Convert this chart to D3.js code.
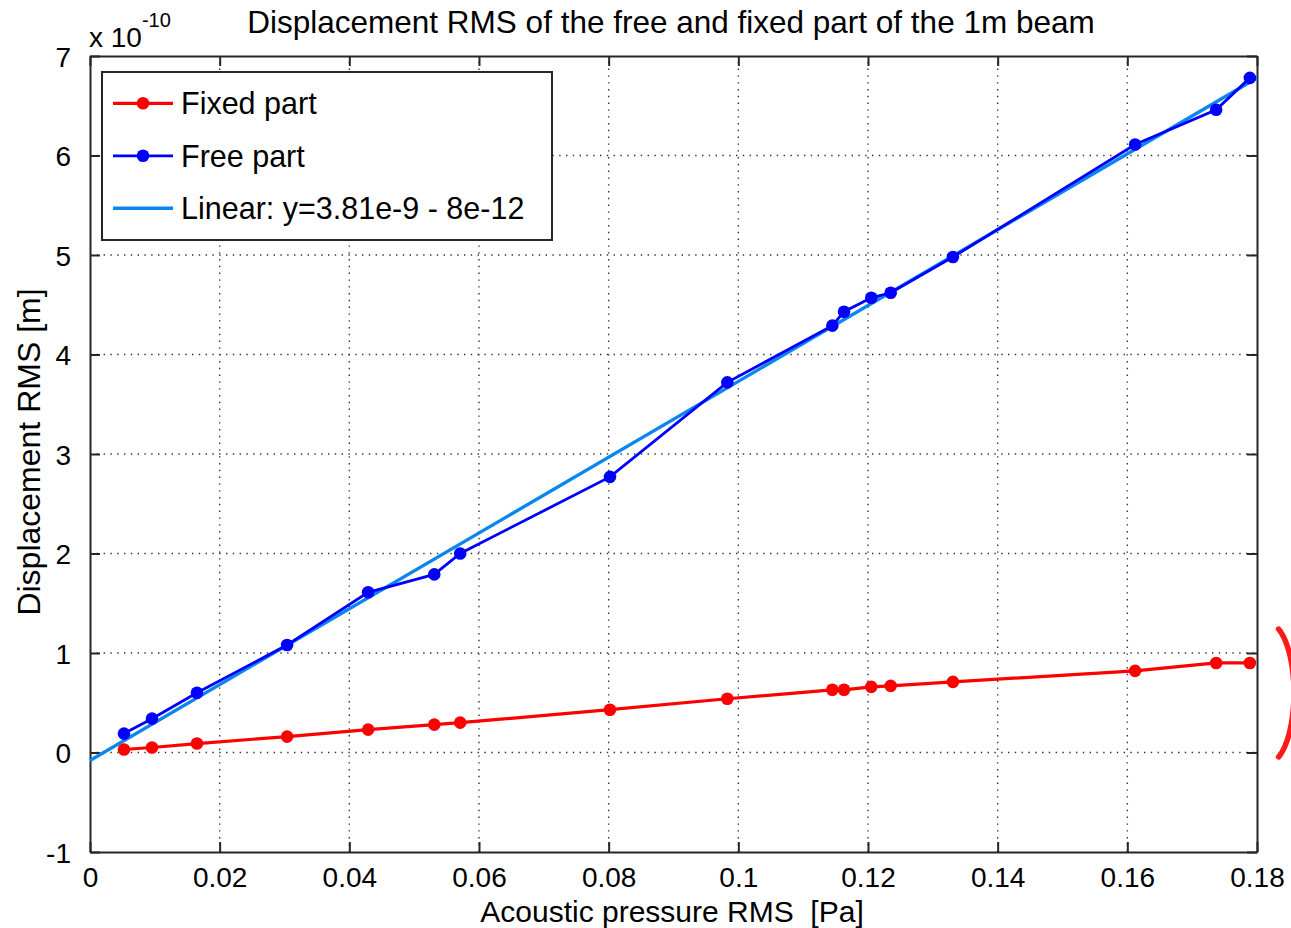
<!DOCTYPE html>
<html>
<head>
<meta charset="utf-8">
<script src="https://cdn.jsdelivr.net/npm/d3@7"></script>
<style>
  html, body { margin: 0; padding: 0; background: #fff; }
  svg { display: block; font-family: "Liberation Sans", Arial, Helvetica, sans-serif; }
</style>
</head>
<body>
<svg id="chart" width="1291" height="928"></svg>
<script>
// Acoustic pressure RMS [Pa] for each measurement
const pressure = [0.00524, 0.00956, 0.0165, 0.0304, 0.0429, 0.0531, 0.0571, 0.0802,
                  0.0983, 0.1145, 0.1163, 0.1205, 0.1235, 0.1331, 0.1612, 0.1737, 0.1789];
// Displacement RMS in units of 1e-10 m
const fixedPart = [0.03, 0.05, 0.09, 0.16, 0.23, 0.28, 0.30, 0.43,
                   0.54, 0.63, 0.63, 0.66, 0.67, 0.71, 0.82, 0.90, 0.90];
const freePart = [0.19, 0.34, 0.60, 1.08, 1.61, 1.79, 2.00, 2.77,
                  3.72, 4.29, 4.43, 4.57, 4.62, 4.98, 6.11, 6.46, 6.78];
// Linear fit of the free part: y = slope * x + intercept (metres)
const fitSlope = 3.81e-9;
const fitIntercept = -8e-12;
const fitRange = [0, 0.18];

const xTicks = [0, 0.02, 0.04, 0.06, 0.08, 0.1, 0.12, 0.14, 0.16, 0.18];
const yTicks = [-1, 0, 1, 2, 3, 4, 5, 6, 7];
const legendLabels = ["Fixed part", "Free part", "Linear: y=3.81e-9 - 8e-12"];

const colors = { fixed: "#ff0000", free: "#0000ff", fit: "#0a86f0" };
const SCALE = 1e-10;

const svg = d3.select("#chart");
const margin = { left: 90, right: 34, top: 56, bottom: 76 };
const W = 1291, H = 928;
const x = d3.scaleLinear().domain([0, 0.18]).range([margin.left, W - margin.right]);
const y = d3.scaleLinear().domain([-1, 7]).range([H - margin.bottom, margin.top]);
const x0 = x.range()[0], x1 = x.range()[1], y0 = y.range()[0], y1 = y.range()[1];

svg.append("rect").attr("x", 0).attr("y", 0).attr("width", W).attr("height", H).attr("fill", "#fff");

// dotted grid
const grid = svg.append("g").attr("stroke", "#333").attr("stroke-width", 1.4)
  .attr("stroke-dasharray", "1.4,5.4");
grid.selectAll("line.gx").data(xTicks.slice(1, -1)).join("line")
  .attr("x1", d => x(d)).attr("x2", d => x(d)).attr("y1", y0).attr("y2", y1);
grid.selectAll("line.gy").data(yTicks.slice(1, -1)).join("line")
  .attr("y1", d => y(d)).attr("y2", d => y(d)).attr("x1", x0).attr("x2", x1);

// axes with inward ticks on all four sides
const tickLen = 10;
const axisColor = "#262626";
const fmtX = d => d === 0 ? "0" : String(+d.toFixed(2));
const fmtY = d => d < 0 ? "-" + Math.abs(d) : String(d);
const xb = svg.append("g").attr("transform", `translate(0,${y0})`)
  .call(d3.axisBottom(x).tickValues(xTicks).tickFormat(fmtX).tickSizeInner(-tickLen).tickSizeOuter(0).tickPadding(18));
const xt = svg.append("g").attr("transform", `translate(0,${y1})`)
  .call(d3.axisTop(x).tickValues(xTicks).tickFormat("").tickSizeInner(-tickLen).tickSizeOuter(0));
const yl = svg.append("g").attr("transform", `translate(${x0},0)`)
  .call(d3.axisLeft(y).tickValues(yTicks).tickFormat(fmtY).tickSizeInner(-tickLen).tickSizeOuter(0).tickPadding(19));
const yr = svg.append("g").attr("transform", `translate(${x1},0)`)
  .call(d3.axisRight(y).tickValues(yTicks).tickFormat("").tickSizeInner(-tickLen).tickSizeOuter(0));
[xb, xt, yl, yr].forEach(g => {
  g.select(".domain").attr("stroke", axisColor).attr("stroke-width", 2);
  g.selectAll(".tick line").attr("stroke", axisColor).attr("stroke-width", 2);
  g.selectAll(".tick text").attr("fill", "#000").style("font-size", "28px")
    .style("font-family", '"Liberation Sans", Arial, sans-serif');
});
xb.selectAll(".tick text").attr("dy", "0.6em");
yl.selectAll(".tick text").attr("dy", "0.36em");

// fitted line
const fitLine = d3.line().x(d => x(d)).y(d => y((fitSlope * d + fitIntercept) / SCALE));
svg.append("path").datum(fitRange).attr("d", fitLine)
  .attr("fill", "none").attr("stroke", colors.fit).attr("stroke-width", 3.4);

// measured series
const seriesLine = d3.line().x(d => x(d[0])).y(d => y(d[1]));
function drawSeries(values, color, width) {
  const pts = pressure.map((p, i) => [p, values[i]]);
  svg.append("path").datum(pts).attr("d", seriesLine)
    .attr("fill", "none").attr("stroke", color).attr("stroke-width", width);
  svg.append("g").selectAll("circle").data(pts).join("circle")
    .attr("cx", d => x(d[0])).attr("cy", d => y(d[1])).attr("r", 6.3).attr("fill", color);
}
drawSeries(fixedPart, colors.fixed, 3.2);
drawSeries(freePart, colors.free, 2.8);

// legend
const lg = svg.append("g");
lg.append("rect").attr("x", 102).attr("y", 72).attr("width", 450).attr("height", 168)
  .attr("fill", "#fff").attr("stroke", axisColor).attr("stroke-width", 2);
const legendItems = [
  { label: legendLabels[0], color: colors.fixed, marker: true, w: 3.2 },
  { label: legendLabels[1], color: colors.free, marker: true, w: 2.8 },
  { label: legendLabels[2], color: colors.fit, marker: false, w: 3.4 }
];
legendItems.forEach((it, i) => {
  const cy = 103.3 + i * 52.5;
  lg.append("line").attr("x1", 113).attr("x2", 173).attr("y1", cy).attr("y2", cy)
    .attr("stroke", it.color).attr("stroke-width", it.w);
  if (it.marker) lg.append("circle").attr("cx", 143).attr("cy", cy).attr("r", 6.3).attr("fill", it.color);
  lg.append("text").attr("x", 181).attr("y", cy).attr("dy", "0.36em")
    .style("font-size", "30.5px").attr("fill", "#000").text(it.label);
});

// exponent marker
const ex = svg.append("text").attr("x", 89).attr("y", 47).style("font-size", "28px").attr("fill", "#000");
ex.append("tspan").text("x 10");
ex.append("tspan").attr("dy", -20).style("font-size", "20px").text("-10");

// title and axis labels
svg.append("text").attr("x", 671).attr("y", 33).attr("text-anchor", "middle")
  .style("font-size", "31.5px").attr("fill", "#000")
  .text("Displacement RMS of the free and fixed part of the 1m beam");
svg.append("text").attr("x", 672).attr("y", 922).attr("text-anchor", "middle")
  .style("font-size", "30px").attr("fill", "#000").attr("xml:space", "preserve")
  .text("Acoustic pressure RMS  [Pa]");
svg.append("text").attr("transform", "translate(40,452) rotate(-90)").attr("text-anchor", "middle")
  .style("font-size", "32px").attr("fill", "#000")
  .text("Displacement RMS [m]");

// red highlight arc around the right-hand end of the fixed part
const arcCx = 1268, arcCy = 693, arcRx = 26, arcRy = 70;
const arcPts = d3.range(-66, 67, 2).map(a => {
  const r = a * Math.PI / 180;
  return [arcCx + arcRx * Math.cos(r), arcCy + arcRy * Math.sin(r)];
});
svg.append("path").datum(arcPts).attr("d", d3.line())
  .attr("fill", "none").attr("stroke", "#ff1a1a").attr("stroke-width", 5.5).attr("stroke-linecap", "round");
</script>
</body>
</html>
